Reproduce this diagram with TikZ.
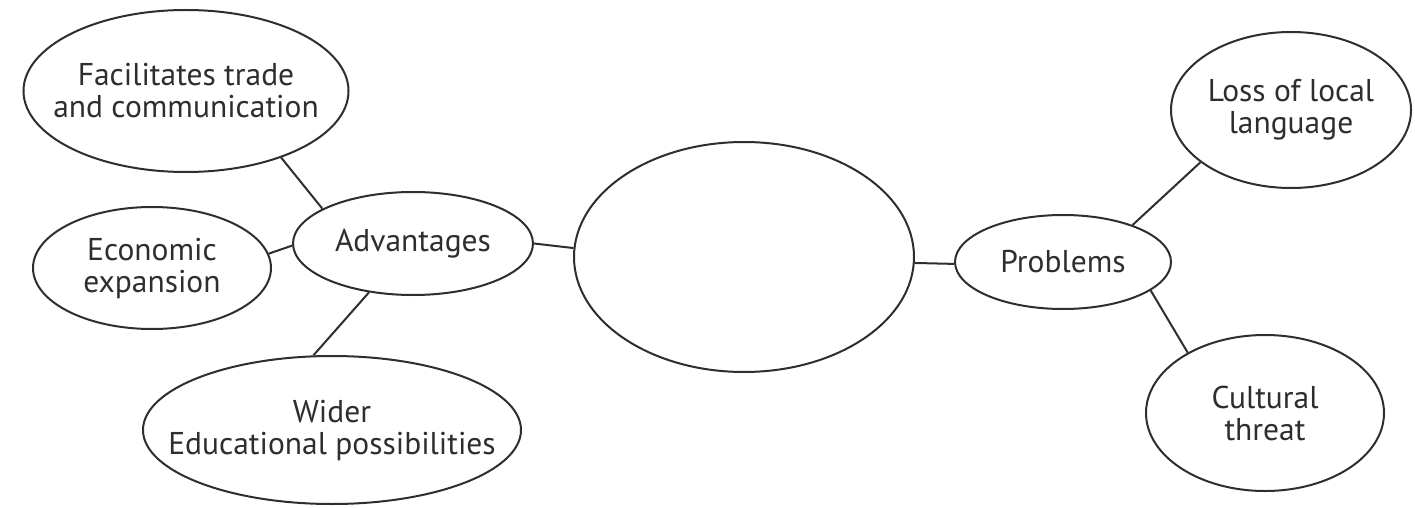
\documentclass[tikz,border=0pt]{standalone}
\usepackage{fontspec}
\setmainfont{PT Sans}
\usetikzlibrary{shapes.geometric}
\definecolor{ink}{HTML}{2E2E2E}
\tikzset{
  bubble/.style={ellipse, draw=ink, line width=2pt, inner sep=-120pt, align=center,
    text=ink, font=\fontsize{31.5}{32}\selectfont},
  link/.style={draw=ink, line width=2pt}
}
\begin{document}
\begin{tikzpicture}[x=1pt,y=1pt]
\useasboundingbox[fill=white] (0,0) rectangle (1415,507);
\node[bubble, minimum width=325pt, minimum height=162pt] (fac) at (186,416) {Facilitates trade\\and communication};
\node[bubble, minimum width=238pt, minimum height=122pt] (eco) at (152,239) {Economic\\expansion};
\node[bubble, minimum width=240pt, minimum height=103pt] (adv) at (413,263.5) {Advantages};
\node[bubble, minimum width=378pt, minimum height=148pt] (wid) at (332,77) {Wider\\Educational possibilities};
\node[bubble, minimum width=340pt, minimum height=230pt] (cen) at (744,250) {};
\node[bubble, minimum width=216pt, minimum height=94pt] (pro) at (1063,245) {Problems};
\node[bubble, minimum width=240pt, minimum height=156pt] (los) at (1291,397) {Loss of local\\language};
\node[bubble, minimum width=238pt, minimum height=156pt] (cul) at (1265,94) {Cultural\\threat};
\draw[link] (fac.-35.4) -- (adv.159.8);
\draw[link] (eco.7.9) -- (adv.181);
\draw[link] (adv.0) -- (cen.177);
\draw[link] (adv.-132.9) -- (wid.104.6);
\draw[link] (cen.-2) -- (pro.181);
\draw[link] (pro.28.5) -- (los.-150.3);
\draw[link] (pro.-18.6) -- (cul.142.4);
\end{tikzpicture}
\end{document}
